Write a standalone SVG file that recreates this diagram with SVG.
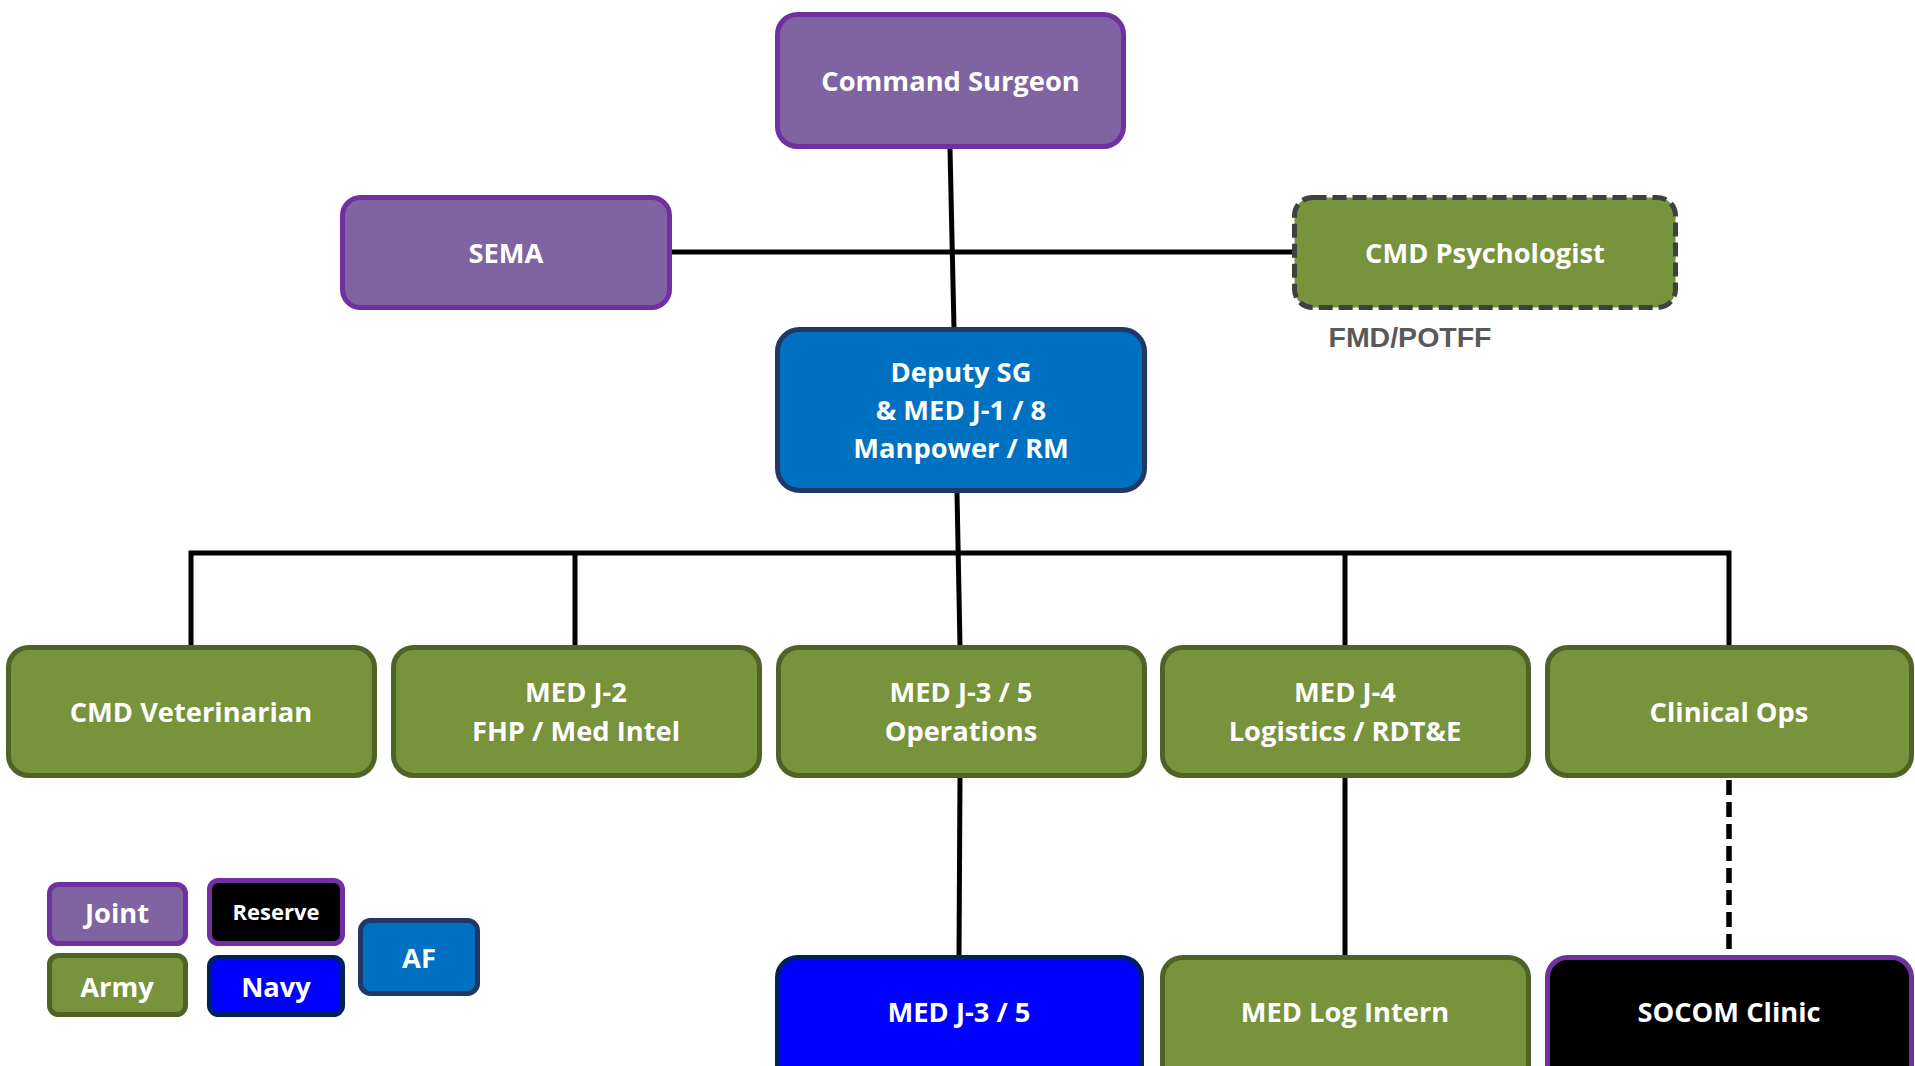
<svg xmlns="http://www.w3.org/2000/svg" width="1915" height="1066" viewBox="0 0 1915 1066">
<style>
  .t { font-family: "Open Sans", "Noto Sans", "Liberation Sans", sans-serif; font-weight: 700; font-size: 27.3px; fill: #ffffff; text-anchor: middle; }
  .t.small { font-size: 22px; }
  .joint { fill: #8064A2; stroke: #7030A0; stroke-width: 5; }
  .army { fill: #77933C; stroke: #4F6228; stroke-width: 5; }
  .af { fill: #0070C0; stroke: #1F3864; stroke-width: 5; }
  .navy { fill: #0000FF; stroke: #002060; stroke-width: 5; }
  .reserve { fill: #000000; stroke: #7030A0; stroke-width: 5; }
  .psych { fill: #77933C; stroke: #404040; stroke-width: 5; stroke-dasharray: 14 6; }
  .c { stroke: #000000; stroke-width: 5; fill: none; }
  .c.dash { stroke-width: 5.5; stroke-dasharray: 15 7; }
</style>
<rect width="1915" height="1066" fill="#ffffff"/>
<g id="connectors">
  <line class="c" x1="950" y1="149" x2="954" y2="328"/>
  <line class="c" x1="672" y1="252" x2="1292" y2="252"/>
  <line class="c" x1="957" y1="493" x2="960" y2="646"/>
  <polyline class="c" points="191,646 191,553 1729,553 1729,646"/>
  <line class="c" x1="575" y1="553" x2="575" y2="646"/>
  <line class="c" x1="1345" y1="553" x2="1345" y2="646"/>
  <line class="c" x1="960" y1="777" x2="959" y2="956"/>
  <line class="c" x1="1345" y1="777" x2="1345" y2="956"/>
  <line class="c dash" x1="1729" y1="780" x2="1729" y2="955"/>
</g>
<g id="command-surgeon">
  <rect class="joint" x="777.5" y="14.5" width="346" height="132" rx="20"/>
  <text class="t" x="950.5" y="91">Command Surgeon</text>
</g>
<g id="sema">
  <rect class="joint" x="342.5" y="197.5" width="327" height="110" rx="18"/>
  <text class="t" x="506" y="263">SEMA</text>
</g>
<g id="cmd-psychologist">
  <rect class="psych" x="1294.5" y="197.5" width="381" height="110" rx="18"/>
  <text class="t" x="1485" y="263">CMD Psychologist</text>
  <text x="1410" y="347" font-family="'Liberation Sans', Arial, sans-serif" font-weight="700" font-size="28.5" fill="#595959" text-anchor="middle">FMD/POTFF</text>
</g>
<g id="deputy-sg">
  <rect class="af" x="777.5" y="329.5" width="367" height="161" rx="22"/>
  <text class="t" x="961" y="382">Deputy SG</text>
  <text class="t" x="961" y="420">&amp; MED J-1 / 8</text>
  <text class="t" x="961" y="458">Manpower / RM</text>
</g>
<g id="cmd-veterinarian">
  <rect class="army" x="8.5" y="647.5" width="366" height="128" rx="20"/>
  <text class="t" x="191" y="722">CMD Veterinarian</text>
</g>
<g id="med-j2">
  <rect class="army" x="393.5" y="647.5" width="366" height="128" rx="20"/>
  <text class="t" x="576" y="702">MED J-2</text>
  <text class="t" x="576" y="741">FHP / Med Intel</text>
</g>
<g id="med-j35-ops">
  <rect class="army" x="778.5" y="647.5" width="366" height="128" rx="20"/>
  <text class="t" x="961" y="702">MED J-3 / 5</text>
  <text class="t" x="961" y="741">Operations</text>
</g>
<g id="med-j4">
  <rect class="army" x="1162.5" y="647.5" width="366" height="128" rx="20"/>
  <text class="t" x="1345" y="702">MED J-4</text>
  <text class="t" x="1345" y="741">Logistics / RDT&amp;E</text>
</g>
<g id="clinical-ops">
  <rect class="army" x="1547.5" y="647.5" width="364" height="128" rx="20"/>
  <text class="t" x="1729" y="722">Clinical Ops</text>
</g>
<g id="med-j35-navy">
  <rect class="navy" x="777.5" y="957.5" width="364" height="140" rx="20"/>
  <text class="t" x="959" y="1022">MED J-3 / 5</text>
</g>
<g id="med-log-intern">
  <rect class="army" x="1162.5" y="957.5" width="366" height="140" rx="20"/>
  <text class="t" x="1345" y="1022">MED Log Intern</text>
</g>
<g id="socom-clinic">
  <rect class="reserve" x="1547.5" y="957.5" width="364" height="140" rx="20"/>
  <text class="t" x="1729" y="1022">SOCOM Clinic</text>
</g>
<g id="legend-joint">
  <rect class="joint" x="49.5" y="884.5" width="136" height="59" rx="9"/>
  <text class="t" x="117" y="923">Joint</text>
</g>
<g id="legend-army">
  <rect class="army" x="49.5" y="955.5" width="136" height="59" rx="9"/>
  <text class="t" x="117" y="997">Army</text>
</g>
<g id="legend-reserve">
  <rect class="reserve" x="209.5" y="880.5" width="133" height="63" rx="9"/>
  <text class="t small" x="276" y="920">Reserve</text>
</g>
<g id="legend-navy">
  <rect class="navy" x="209.5" y="957.5" width="133" height="57" rx="9"/>
  <text class="t" x="276" y="997">Navy</text>
</g>
<g id="legend-af">
  <rect class="af" x="360.5" y="920.5" width="117" height="73" rx="10"/>
  <text class="t" x="419" y="968">AF</text>
</g>
</svg>
